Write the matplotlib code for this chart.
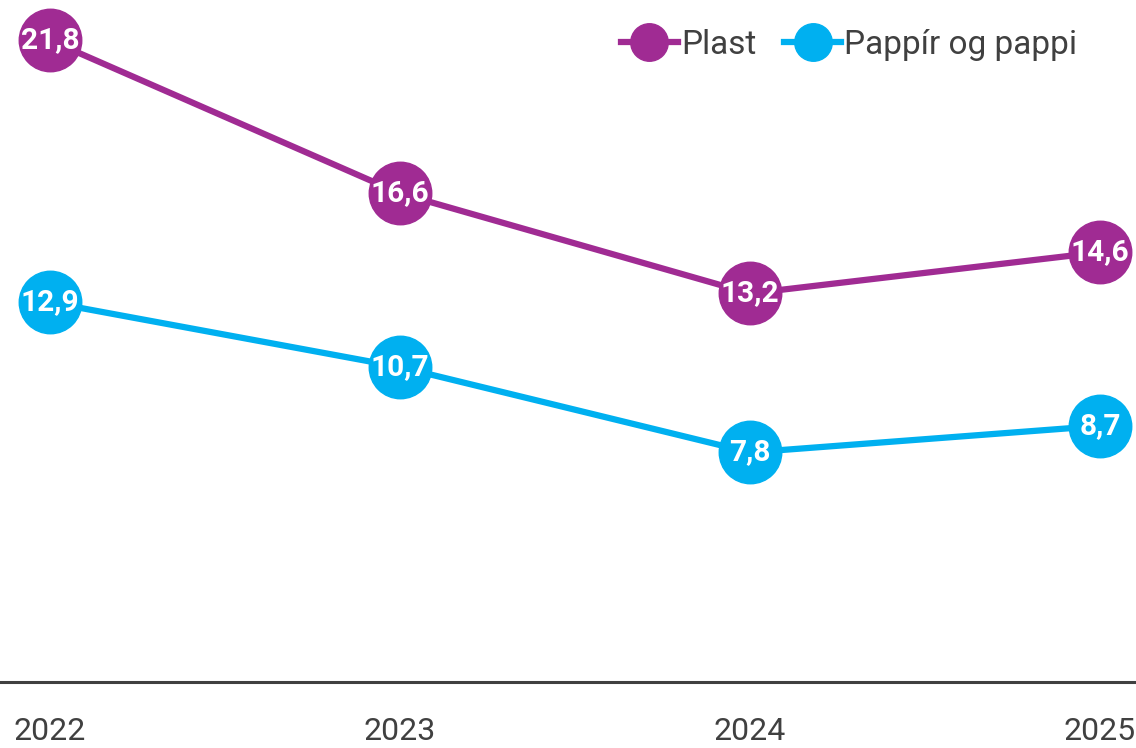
import matplotlib
matplotlib.use("Agg")
import matplotlib.pyplot as plt
from matplotlib.lines import Line2D

years = ["2022", "2023", "2024", "2025"]
plast = [21.8, 16.6, 13.2, 14.6]
pappir = [12.9, 10.7, 7.8, 8.7]
series_names = ["Plast", "Pappír og pappi"]
colors = ["#A02B93", "#00B0F0"]

plt.rcParams['font.family'] = ['Roboto', 'DejaVu Sans']
fig = plt.figure(figsize=(11.36, 7.48), dpi=100)
ax = fig.add_axes([0, 66/748, 1, 682/748])
x = list(range(len(years)))
for vals, col in zip([plast, pappir], colors):
    ax.plot(x, vals, color=col, lw=4.5, marker='o', markersize=45, zorder=3, clip_on=False)
    for xi, v in zip(x, vals):
        ax.text(xi, v, f"{v:.1f}".replace('.', ','), ha='center', va='center',
                color='white', fontsize=21.5, fontweight='bold', zorder=4)

ax.set_xlim(-50/350, 3 + 36/350)
ax.set_ylim(0, 23.17)
for s in ['top', 'right', 'left']:
    ax.spines[s].set_visible(False)
ax.spines['bottom'].set_color('#404040')
ax.spines['bottom'].set_linewidth(2.2)
ax.set_yticks([])
ax.set_xticks(x)
ax.set_xticklabels(years, fontsize=23, color='#404040')
ax.tick_params(axis='x', length=0, pad=25)

handles = [Line2D([0], [0], color=c, lw=4.5, marker='o', markersize=27) for c in colors]
leg = ax.legend(handles, series_names, loc='upper right', bbox_to_anchor=(0.975, 1.002),
                ncol=2, frameon=False, fontsize=24, handlelength=1.7, handletextpad=0.1,
                columnspacing=0.85, labelcolor='#404040')

fig.savefig("out.png", dpi=100)
